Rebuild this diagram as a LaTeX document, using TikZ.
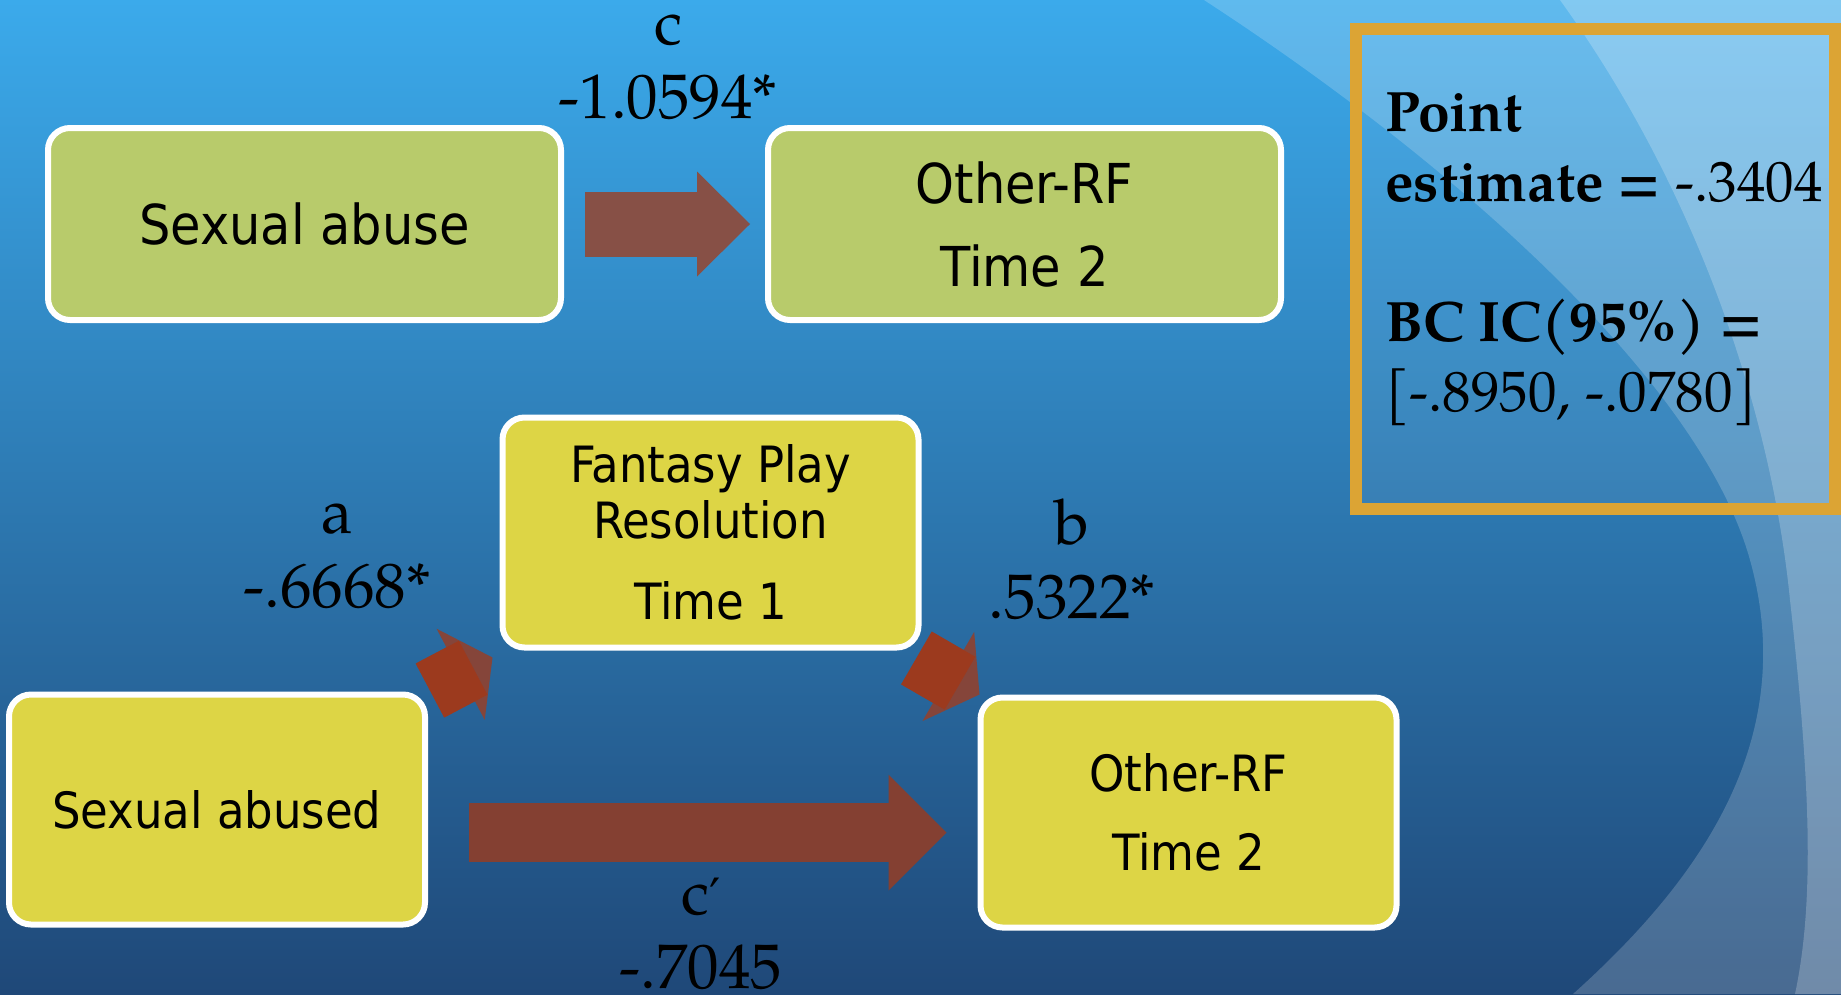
\documentclass[tikz,border=0pt]{standalone}
\usepackage{fontspec}
\setmainfont{TeX Gyre Pagella}
\newfontfamily\boxfont{DejaVu Sans Condensed}
\newfontfamily\primefont{DejaVu Serif}
\usetikzlibrary{positioning,calc,arrows.meta}

\definecolor{bgtop}{HTML}{3BAAEB}
\definecolor{bgmid}{HTML}{2B7BB4}
\definecolor{bgbot}{HTML}{1F4878}
\definecolor{olivebox}{HTML}{B8CB6B}
\definecolor{yellowbox}{HTML}{DDD545}
\definecolor{orangeline}{HTML}{DCA434}
\definecolor{arrowtop}{HTML}{875046}
\definecolor{arrowbot}{HTML}{844032}
\definecolor{arrowhead}{HTML}{85453A}
\definecolor{arrowbody}{HTML}{9C3A1E}

\tikzset{
  varbox/.style={draw=white, line width=6pt, rounded corners=22pt, align=center},
  topbox/.style={varbox, fill=olivebox, minimum width=513pt, minimum height=192pt,
    font=\boxfont\fontsize{55}{83}\selectfont},
  lowbox/.style={varbox, fill=yellowbox, minimum width=416pt, minimum height=230pt,
    font=\boxfont\fontsize{50}{79}\selectfont},
  coef/.style={align=center, font=\fontsize{63}{74}\selectfont},
  bigarrow/.style={line width=65pt, arrowtop,
    -{Triangle[line width=0pt,length=53pt,width=105pt]}},
  longarrow/.style={line width=59pt, arrowbot,
    -{Triangle[line width=0pt,length=58pt,width=116pt]}},
  shortarrow/.style={line width=61pt, arrowhead,
    -{Triangle[line width=0pt,length=36pt,width=103pt]}}
}

\begin{document}
\begin{tikzpicture}[x=1pt,y=-1pt]
\useasboundingbox (0,0) rectangle (1841,994);
\shade[top color=bgtop, middle color=bgmid, bottom color=bgbot] (0,0) rectangle (1841,994);

\fill[white, opacity=0.19] (1204,0)
  .. controls (1450,160) and (1700,380) .. (1750,560)
  .. controls (1800,740) and (1700,880) .. (1573,994)
  -- (1841,994) -- (1841,0) -- cycle;
\fill[white, opacity=0.22] (1560,0)
  .. controls (1690,180) and (1770,400) .. (1790,600)
  .. controls (1810,780) and (1815,900) .. (1795,994)
  -- (1841,994) -- (1841,0) -- cycle;

\node[topbox] (sa) at (304.5,224) {Sexual abuse};
\node[topbox, right=201pt of sa] (orf1) {Other-RF\\Time 2};

\node[lowbox, font=\boxfont\fontsize{50}{56}\selectfont] (fpr) at (710.5,532.5)
  {Fantasy Play\\Resolution\\[25pt]Time 1};
\node[lowbox] (sad) at (217,809.5) {Sexual abused};
\node[lowbox] (orf2) at (1188.5,812.5) {Other-RF\\Time 2};

\draw[bigarrow] ($(sa.east)+(21,0)$) -- ($(orf1.west)+(-15,0)$);
\draw[longarrow] ($(sad.east)+(41,23)$) -- ($(orf2.west)+(-31,20)$);

\coordinate (a0) at ($(sad.north east)+(2,-1)$);
\coordinate (a1) at ($(fpr.south west)+(-7,7)$);
\draw[shortarrow] (a0) -- (a1);
\draw[arrowbody, line width=61pt] (a0) -- ($(a0)!0.69!(a1)$);

\coordinate (b0) at ($(fpr.south east)+(-5,7.5)$);
\coordinate (b1) at ($(orf2.north west)+(2,0)$);
\draw[shortarrow] (b0) -- (b1);
\draw[arrowbody, line width=61pt] (b0) -- ($(b0)!0.69!(b1)$);

\node[coef] (lc) at (668,67) {c\\-1.0594*};
\node[coef] (la) at (337,556) {a\\-.6668*};
\node[coef] (lb) at (1072,559) {b\\.5322*};
\node[coef] (lcp) at (701,934) {c{\primefont\fontsize{50}{60}\selectfont ′}\\-.7045};

\node[draw=orangeline, line width=12pt, fill=white, fill opacity=0.06,
  minimum width=479pt, minimum height=480pt] (est) at (1595.5,269) {};
\node[anchor=north west, align=left, inner sep=0pt,
  font=\fontsize{57}{70}\selectfont] (esttxt) at ($(est.north west)+(35,69)$)
  {\textbf{Point}\\\textbf{estimate =} -.3404\\[70pt]\textbf{BC IC(95\%) =}\\{}[-.8950, -.0780]};
\end{tikzpicture}
\end{document}
